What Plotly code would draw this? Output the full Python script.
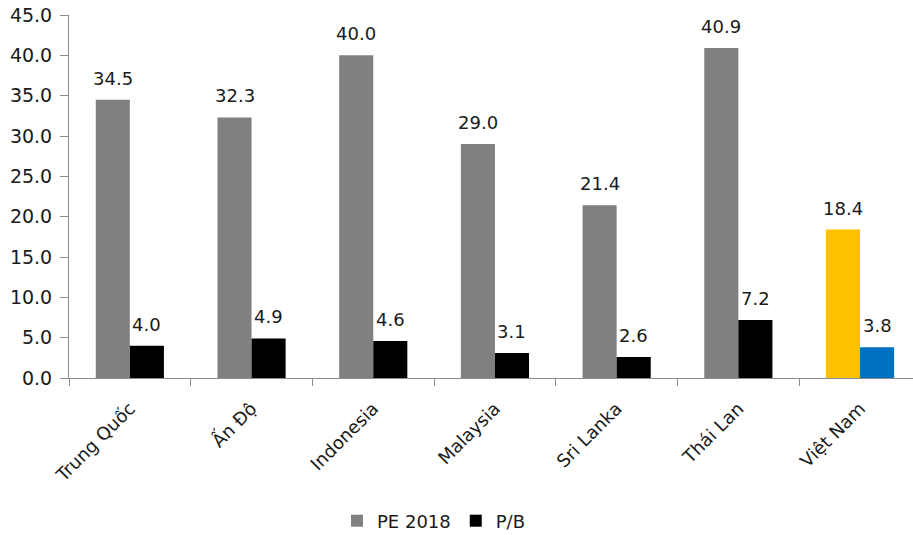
import plotly.graph_objects as go

countries = ["Trung Quốc", "Ấn Độ", "Indonesia", "Malaysia", "Sri Lanka", "Thái Lan", "Việt Nam"]
pe_2018 = [34.5, 32.3, 40.0, 29.0, 21.4, 40.9, 18.4]
pb = [4.0, 4.9, 4.6, 3.1, 2.6, 7.2, 3.8]
y_ticks = [0, 5, 10, 15, 20, 25, 30, 35, 40, 45]

pe_colors = ["#808080"] * (len(countries) - 1) + ["#FFC000"]
pb_colors = ["#000000"] * (len(countries) - 1) + ["#0070C0"]

FONT = "DejaVu Sans"
TXT = "#1a1a1a"
AXIS = "#8c8c8c"
BARGAP = 0.44

fig = go.Figure()
fig.add_trace(go.Bar(name="PE 2018", x=countries, y=pe_2018,
                     marker=dict(color=pe_colors, line=dict(width=0))))
fig.add_trace(go.Bar(name="P/B", x=countries, y=pb,
                     marker=dict(color=pb_colors, line=dict(width=0))))

# value labels centred over each bar of the pair
half = (1 - BARGAP) / 4
for i, (a, b) in enumerate(zip(pe_2018, pb)):
    for dx, v in ((-half, a), (half, b)):
        fig.add_annotation(x=i + dx, y=v, text=f"{v:.1f}", showarrow=False,
                           xref="x", yref="y", yanchor="bottom", yshift=9,
                           font=dict(size=18, family=FONT, color=TXT))

fig.update_layout(
    width=913, height=535,
    margin=dict(l=69, r=0, t=15, b=157),
    paper_bgcolor="white", plot_bgcolor="white",
    barmode="group", bargap=BARGAP, bargroupgap=0,
    font=dict(family=FONT, size=18, color=TXT),
    legend=dict(orientation="h", x=337 / 913, xanchor="left", xref="container",
                y=14 / 535, yanchor="middle", yref="container",
                font=dict(size=18, family=FONT, color=TXT),
                itemwidth=30, traceorder="normal"),
    showlegend=True,
)
fig.update_xaxes(
    range=[-0.5, -0.5 + 844 / 121.7], automargin=False,
    showline=True, linecolor=AXIS, linewidth=1,
    ticks="outside", tickson="boundaries", ticklen=7, tickcolor=AXIS,
    tickangle=-45, ticklabelstandoff=12,
    tickfont=dict(size=18, family=FONT, color=TXT),
    showgrid=False, zeroline=False,
)
fig.update_yaxes(
    range=[0, 45], tickvals=y_ticks, ticktext=[f"{v:.1f}" for v in y_ticks],
    automargin=False,
    showline=True, linecolor=AXIS, linewidth=1,
    ticks="outside", ticklen=8, tickcolor=AXIS, ticklabelstandoff=4,
    tickfont=dict(size=19, family=FONT, color=TXT),
    showgrid=False, zeroline=False,
)

fig.write_html("out.html")
